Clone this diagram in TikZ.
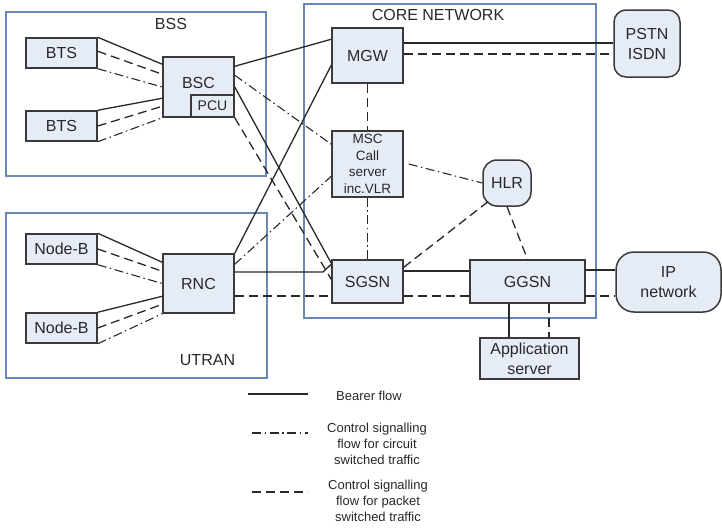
\documentclass[tikz,border=0pt]{standalone}
\usepackage{fontspec}
\setmainfont{Liberation Sans}
\usetikzlibrary{calc}
\definecolor{boxfill}{RGB}{230,236,246}
\definecolor{boxline}{RGB}{58,58,58}
\definecolor{grpline}{RGB}{105,135,180}
\definecolor{ink}{RGB}{40,40,40}
\tikzset{
  el/.style={draw=boxline, fill=boxfill, line width=1.5pt, inner sep=0pt,
    align=center, text=ink, font=\fontsize{16}{20}\selectfont},
  rnd/.style={el, rounded corners=#1},
  group/.style={draw=grpline, line width=1.5pt, inner sep=0pt},
  grplabel/.style={text=ink, font=\fontsize{16}{20}\selectfont},
  legtext/.style={text=ink, align=center, font=\fontsize{13}{16}\selectfont},
  bearer/.style={draw=ink, line width=1.3pt},
  pktsig/.style={draw=ink, line width=1.3pt, dash pattern=on 9pt off 5pt},
  cssig/.style={draw=ink, line width=1.1pt, dash pattern=on 9pt off 3.5pt on 1.5pt off 3.5pt},
}
\begin{document}
\begin{tikzpicture}[x=1pt, y=-1pt]
\useasboundingbox (0,0) rectangle (722,528);

% domain frames
\node[group, minimum width=260, minimum height=164] (bss) at (136,94) {};
\node[group, minimum width=292, minimum height=314] (core) at (450,161) {};
\node[group, minimum width=261, minimum height=165] (utran) at (136.5,295.5) {};
\node[grplabel] (bsslbl) at (171,24) {BSS};
\node[grplabel] (corelbl) at (438,15) {CORE NETWORK};
\node[grplabel] (utranlbl) at (207.5,360) {UTRAN};

% network elements
\node[el, minimum width=71, minimum height=30] (bts1) at (61.5,53) {BTS};
\node[el, minimum width=71, minimum height=30] (bts2) at (61.5,126) {BTS};
\node[el, minimum width=71, minimum height=60] (bsc) at (198.5,87) {\raisebox{8pt}{BSC}};
\node[el, minimum width=43, minimum height=22, font=\fontsize{14}{16}\selectfont] (pcu) at (212.5,106) {PCU};
\node[el, minimum width=71, minimum height=30] (nb1) at (61.5,249) {Node-B};
\node[el, minimum width=71, minimum height=30] (nb2) at (61.5,328) {Node-B};
\node[el, minimum width=71, minimum height=59] (rnc) at (198.5,283.5) {RNC};
\node[el, minimum width=71, minimum height=55] (mgw) at (367.5,55.5) {MGW};
\node[el, minimum width=71, minimum height=66, font=\fontsize{13.5}{16.5}\selectfont] (msc) at (367.5,164) {MSC\\Call\\server\\inc.VLR};
\node[rnd=14pt, minimum width=48, minimum height=46] (hlr) at (507,183) {HLR};
\node[el, minimum width=71, minimum height=43] (sgsn) at (367.5,281.5) {SGSN};
\node[el, minimum width=115, minimum height=43] (ggsn) at (527.5,281.5) {GGSN};
\node[rnd=12pt, minimum width=66, minimum height=67] (pstn) at (647,43.5) {PSTN\\ISDN};
\node[rnd=18pt, minimum width=105, minimum height=60] (ip) at (668.5,282) {IP\\network};
\node[el, minimum width=99, minimum height=41] (app) at (529.5,358.5) {Application\\server};

% BTS -- BSC
\draw[bearer] (bts1.north east) -- ([yshift=-8pt]bsc.north west);
\draw[pktsig] ([yshift=-14pt]bts1.north east) -- ([yshift=-18pt]bsc.north west);
\draw[cssig]  (bts1.south east) -- (bsc.west);
\draw[bearer] (bts2.north east) -- ([yshift=-42pt]bsc.north west);
\draw[pktsig] (bts2.east) -- ([yshift=-50pt]bsc.north west);
\draw[cssig]  (bts2.south east) -- (bsc.south west);

% Node-B -- RNC
\draw[bearer] (nb1.north east) -- ([yshift=-9pt]rnc.north west);
\draw[pktsig] (nb1.east) -- ([yshift=-18pt]rnc.north west);
\draw[cssig]  (nb1.south east) -- (rnc.west);
\draw[bearer] (nb2.north east) -- ([yshift=-43pt]rnc.north west);
\draw[pktsig] (nb2.east) -- ([yshift=-51pt]rnc.north west);
\draw[cssig]  (nb2.south east) -- (rnc.south west);

% access network -- core network
\draw[bearer] ([yshift=-10pt]bsc.north east) -- ([yshift=-12pt]mgw.north west);
\draw[bearer] (rnc.north east) -- ([yshift=-38pt]mgw.north west);
\draw[cssig]  ([yshift=-19pt]bsc.north east) -- ([yshift=-14pt]msc.north west);
\draw[cssig]  ([yshift=-11pt]rnc.north east) -- ([yshift=-46pt]msc.north west);
\draw[bearer] (bsc.east) -- ([yshift=-4pt]sgsn.north west);
\draw[pktsig] (pcu.south east) -- ([yshift=-20pt]sgsn.north west);
\coordinate (kink) at (323,272);
\draw[bearer] (rnc.east |- kink) -- (kink) -- ([yshift=-5pt]sgsn.north west);

% packet signalling bus RNC -- SGSN -- GGSN -- IP
\coordinate (pbus) at (0,296);
\draw[pktsig] (rnc.east |- pbus) -- (sgsn.west |- pbus);
\draw[pktsig] (sgsn.east |- pbus) -- (ggsn.west |- pbus);
\draw[pktsig] (ggsn.east |- pbus) -- (ip.west |- pbus);

% core network links
\coordinate (gnbus) at (0,271);
\draw[bearer] (sgsn.east |- gnbus) -- (ggsn.west |- gnbus);
\coordinate (gibus) at (0,270);
\draw[bearer] (ggsn.east |- gibus) -- (ip.west |- gibus);
\coordinate (mgwbear) at (0,43);
\coordinate (mgwsig) at (0,54);
\draw[bearer] (mgw.east |- mgwbear) -- (pstn.west |- mgwbear);
\draw[pktsig] (mgw.east |- mgwsig) -- (pstn.west |- mgwsig);
\draw[pktsig] (mgw.south) -- (msc.north);
\draw[cssig]  (msc.south) -- (sgsn.north);
\draw[cssig]  ([xshift=5pt]msc.east) -- (hlr.west);
\draw[pktsig] ([yshift=-8pt]sgsn.north east) -- ([xshift=7pt,yshift=6pt]hlr.south west);
\draw[pktsig] (hlr.south) -- (ggsn.north);
\coordinate (appbear) at (509,0);
\coordinate (appsig) at (549,0);
\draw[bearer] (ggsn.south -| appbear) -- (app.north -| appbear);
\draw[pktsig] (ggsn.south -| appsig) -- (app.north -| appsig);

% legend
\coordinate (lg1a) at (248,394); \coordinate (lg1b) at (308,394);
\coordinate (lg2a) at (252,433); \coordinate (lg2b) at (308,433);
\coordinate (lg3a) at (252,492); \coordinate (lg3b) at (308,492);
\draw[bearer] (lg1a) -- (lg1b);
\draw[cssig]  (lg2a) -- (lg2b);
\draw[pktsig] (lg3a) -- (lg3b);
\node[legtext] (lgt1) at (369,396) {Bearer flow};
\node[legtext] (lgt2) at (377,444) {Control signalling\\flow for circuit\\switched traffic};
\node[legtext] (lgt3) at (378,501) {Control signalling\\flow for packet\\switched traffic};
\end{tikzpicture}
\end{document}
